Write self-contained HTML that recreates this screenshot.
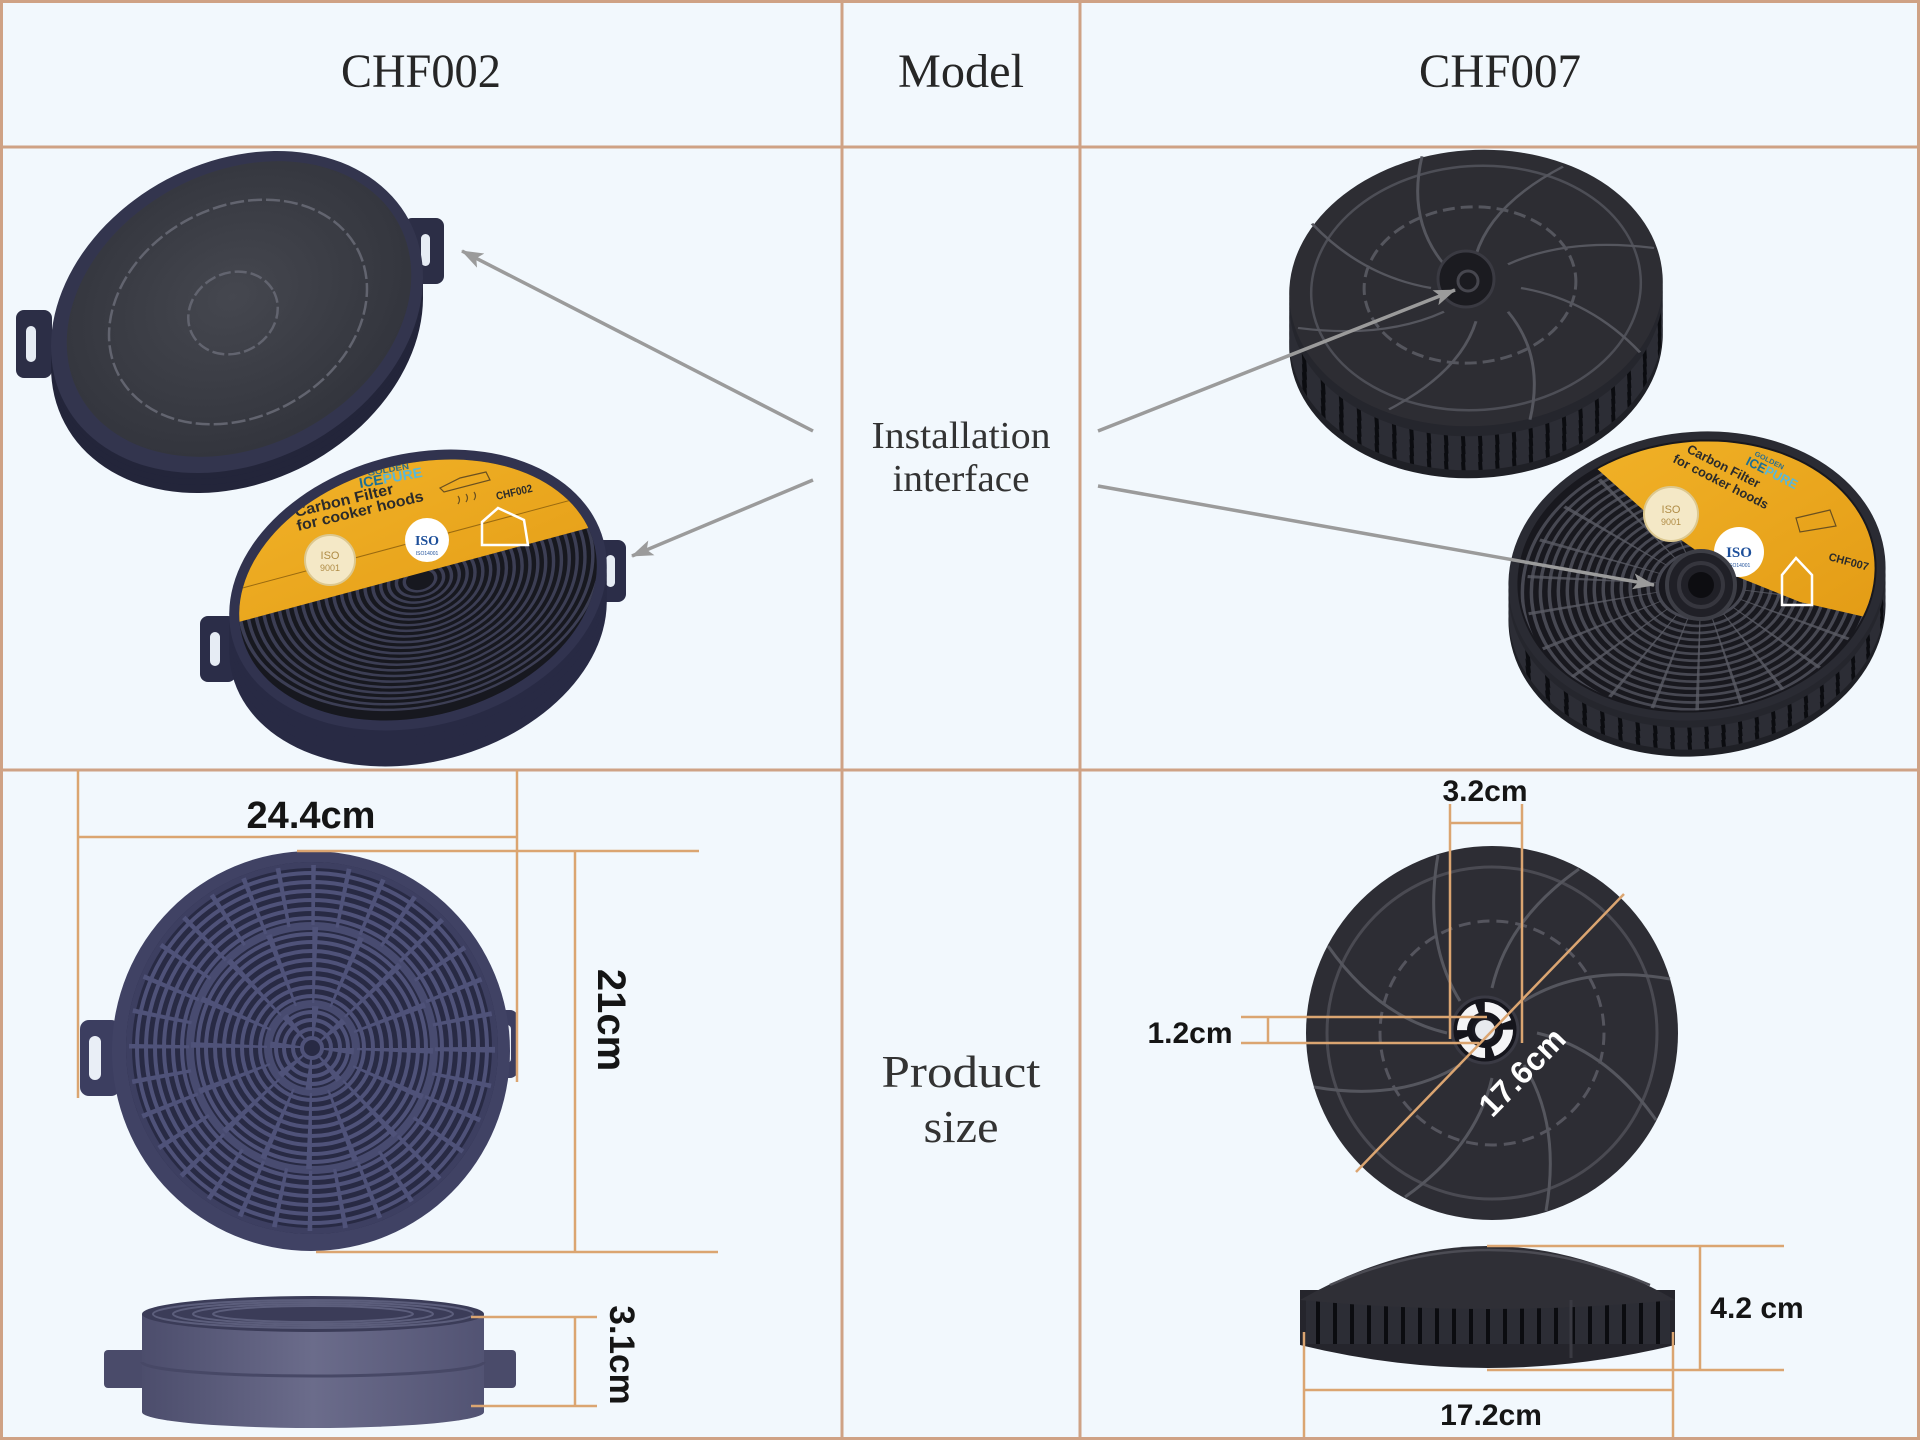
<!DOCTYPE html>
<html><head><meta charset="utf-8"><style>
html,body{margin:0;padding:0;background:#F2F8FD;}
svg{display:block;}
</style></head><body>
<svg width="1920" height="1440" viewBox="0 0 1920 1440" xmlns="http://www.w3.org/2000/svg">
<defs>
 <marker id="ah" markerUnits="userSpaceOnUse" markerWidth="24" markerHeight="18" refX="21" refY="8" orient="auto"><path d="M0,0 L22,8 L0,16 L5,8 z" fill="#9b9b9b"/></marker>
 <radialGradient id="carb" cx="50%" cy="45%" r="60%"><stop offset="0" stop-color="#45474f"/><stop offset="1" stop-color="#31333b"/></radialGradient>
 <linearGradient id="yel" x1="0" y1="0" x2="1" y2="1"><stop offset="0" stop-color="#F3B52A"/><stop offset="1" stop-color="#E29A14"/></linearGradient>
 <linearGradient id="sideL" x1="0" y1="0" x2="1" y2="0"><stop offset="0" stop-color="#4c4d6c"/><stop offset="0.5" stop-color="#6b6c8b"/><stop offset="1" stop-color="#525373"/></linearGradient>
 <pattern id="vent" x="0" y="0" width="17" height="40" patternUnits="userSpaceOnUse"><rect width="17" height="40" fill="#2c2d35"/><rect x="7" width="4" height="40" fill="#0b0c10"/></pattern>
 <clipPath id="faceF2"><ellipse cx="418" cy="590" rx="182" ry="126" transform="rotate(-15 418 590)"/></clipPath>
 <clipPath id="faceF4"><ellipse cx="1697" cy="576" rx="178" ry="134" transform="rotate(-6 1697 576)"/></clipPath>
 <g id="spk" fill="none" stroke="#55565e" stroke-width="3">
  <path d="M1537,1033 Q1606,1049 1656,1120"/>
  <path d="M1524,1065 Q1561,1125 1546,1211"/>
  <path d="M1492,1078 Q1476,1147 1405,1197"/>
  <path d="M1460,1065 Q1400,1102 1314,1087"/>
  <path d="M1447,1033 Q1378,1017 1328,946"/>
  <path d="M1460,1001 Q1423,941 1438,855"/>
  <path d="M1492,988 Q1508,919 1579,869"/>
  <path d="M1524,1001 Q1584,964 1670,979"/>
 </g>
</defs>

<rect width="1920" height="1440" fill="#F2F8FD"/>

<!-- ============ ROW 2 LEFT : CHF002 top filter ============ -->
<rect x="16" y="310" width="36" height="68" rx="8" fill="#2c2e46"/>
<rect x="26" y="326" width="10" height="36" rx="5" fill="#e6ecf4"/>
<rect x="404" y="218" width="40" height="66" rx="8" fill="#2c2e46"/>
<rect x="421" y="234" width="9" height="32" rx="4.5" fill="#e6ecf4"/>
<g fill="#23253a">
 <ellipse cx="237" cy="332" rx="195" ry="150" transform="rotate(-28 237 332)"/>
 <ellipse cx="237" cy="324" rx="195" ry="150" transform="rotate(-28 237 324)"/>
 <ellipse cx="237" cy="318" rx="195" ry="150" transform="rotate(-28 237 318)"/>
</g>
<ellipse cx="237" cy="312" rx="195" ry="150" transform="rotate(-28 237 312)" fill="#33354e"/>
<ellipse cx="239" cy="309" rx="181" ry="137" transform="rotate(-28 239 309)" fill="url(#carb)"/>
<ellipse cx="238" cy="312" rx="135" ry="105" transform="rotate(-28 238 312)" fill="none" stroke="#62646f" stroke-width="2.5" stroke-dasharray="14 4"/>
<ellipse cx="233" cy="313" rx="46" ry="40" transform="rotate(-28 233 313)" fill="none" stroke="#62646f" stroke-width="2.5" stroke-dasharray="12 4"/>

<!-- ============ ROW 2 LEFT : CHF002 bottom filter ============ -->
<rect x="200" y="616" width="36" height="66" rx="8" fill="#2b2d48"/>
<rect x="210" y="632" width="10" height="34" rx="5" fill="#e6ecf4"/>
<rect x="590" y="540" width="36" height="62" rx="8" fill="#2b2d48"/>
<rect x="606" y="555" width="9" height="32" rx="4.5" fill="#e6ecf4"/>
<g fill="#282a44">
 <ellipse cx="418" cy="626" rx="192" ry="136" transform="rotate(-15 418 626)"/>
 <ellipse cx="418" cy="616" rx="192" ry="136" transform="rotate(-15 418 616)"/>
 <ellipse cx="418" cy="606" rx="192" ry="136" transform="rotate(-15 418 606)"/>
 <ellipse cx="418" cy="598" rx="192" ry="136" transform="rotate(-15 418 598)"/>
</g>
<ellipse cx="418" cy="590" rx="192" ry="136" transform="rotate(-15 418 590)" fill="#31334f"/>
<ellipse cx="418" cy="590" rx="182" ry="126" transform="rotate(-15 418 590)" fill="#17181f"/>
<g clip-path="url(#faceF2)">
 <g transform="translate(420 580) rotate(-15) scale(1 0.68)" fill="none" stroke="#3c3e54" stroke-width="3.5">
  <circle r="16"/><circle r="24"/><circle r="32"/><circle r="40"/><circle r="48"/><circle r="56"/><circle r="64"/><circle r="72"/><circle r="80"/><circle r="88"/><circle r="96"/><circle r="104"/><circle r="112"/><circle r="120"/><circle r="128"/><circle r="136"/><circle r="144"/><circle r="152"/><circle r="160"/><circle r="168"/><circle r="176"/><circle r="184"/>
 </g>
 <polygon points="220,440 640,440 640,514 220,627" fill="url(#yel)"/>
 <line x1="235" y1="590" x2="620" y2="487" stroke="#9a6a10" stroke-width="1"/>
 <g font-family="Liberation Sans, sans-serif" font-weight="bold">
  <text transform="translate(368 476) rotate(-10)" font-size="8" fill="#2a6f8f" textLength="42" lengthAdjust="spacingAndGlyphs">GOLDEN</text>
  <text transform="translate(360 488) rotate(-10)" font-size="14" textLength="64" lengthAdjust="spacingAndGlyphs"><tspan fill="#1b6f95">ICE</tspan><tspan fill="#5ab8d8">PURE</tspan></text>
  <text transform="translate(296 517) rotate(-13.5)" font-size="15" fill="#2b2b2b" textLength="101" lengthAdjust="spacingAndGlyphs">Carbon Filter</text>
  <text transform="translate(298 531) rotate(-13.5)" font-size="15" fill="#2b2b2b" textLength="130" lengthAdjust="spacingAndGlyphs">for cooker hoods</text>
  <text transform="translate(497 500) rotate(-13)" font-size="11" fill="#2b2b2b" textLength="37" lengthAdjust="spacingAndGlyphs">CHF002</text>
 </g>
 <circle cx="330" cy="560" r="25" fill="#F4E8C6" stroke="#dcc890" stroke-width="2"/>
 <text x="330" y="559" font-family="Liberation Sans, sans-serif" font-size="11" fill="#b08c46" text-anchor="middle">ISO</text>
 <text x="330" y="571" font-family="Liberation Sans, sans-serif" font-size="9" fill="#b08c46" text-anchor="middle">9001</text>
 <circle cx="427" cy="540" r="22" fill="#ffffff"/>
 <text x="427" y="545" font-family="Liberation Serif, serif" font-weight="bold" font-size="14" fill="#1d4f9a" text-anchor="middle">ISO</text>
 <text x="427" y="555" font-family="Liberation Sans, sans-serif" font-size="5" fill="#1d4f9a" text-anchor="middle">ISO14001</text>
 <path d="M482,545 L482,522 L498,508 L524,520 L528,545 Z" fill="none" stroke="#ffffff" stroke-width="2.5"/>
 <path d="M440,488 L460,478 L486,472 L490,480 L444,492 Z" fill="none" stroke="#6a5020" stroke-width="1.2"/>
 <path d="M458,496 q3,4 0,8 M466,494 q3,4 0,8 M474,492 q3,4 0,8" fill="none" stroke="#6a5020" stroke-width="1.2"/>
</g>

<!-- ============ ROW 2 RIGHT : CHF007 top filter ============ -->
<g>
 <ellipse cx="1476" cy="340" rx="187" ry="138" transform="rotate(-4 1476 340)" fill="#1f2026"/>
 <ellipse cx="1476" cy="332" rx="187" ry="138" transform="rotate(-4 1476 332)" fill="url(#vent)"/>
 <ellipse cx="1476" cy="324" rx="187" ry="138" transform="rotate(-4 1476 324)" fill="url(#vent)"/>
 <ellipse cx="1476" cy="316" rx="187" ry="138" transform="rotate(-4 1476 316)" fill="url(#vent)"/>
 <ellipse cx="1476" cy="308" rx="187" ry="138" transform="rotate(-4 1476 308)" fill="url(#vent)"/>
 <ellipse cx="1476" cy="298" rx="187" ry="138" transform="rotate(-4 1476 298)" fill="#25262d"/>
 <ellipse cx="1476" cy="288" rx="187" ry="138" transform="rotate(-4 1476 288)" fill="#2d2d33"/>
 <ellipse cx="1476" cy="288" rx="165" ry="122" transform="rotate(-4 1476 288)" fill="none" stroke="#4d4e56" stroke-width="2.5"/>
 <ellipse cx="1470" cy="285" rx="106" ry="78" transform="rotate(-4 1470 285)" fill="none" stroke="#55565e" stroke-width="3" stroke-dasharray="12 6"/>
 <use href="#spk" transform="translate(1476 288) scale(1 0.74) translate(-1492 -1033)"/>
 <circle cx="1466" cy="279" r="28" fill="#1b1b20" stroke="#3a3a42" stroke-width="3"/>
 <circle cx="1468" cy="281" r="10" fill="none" stroke="#46464e" stroke-width="3"/>
</g>

<!-- ============ ROW 2 RIGHT : CHF007 bottom filter ============ -->
<g>
 <ellipse cx="1697" cy="612" rx="189" ry="144" transform="rotate(-6 1697 612)" fill="#1f2026"/>
 <ellipse cx="1697" cy="605" rx="189" ry="144" transform="rotate(-6 1697 605)" fill="url(#vent)"/>
 <ellipse cx="1697" cy="598" rx="189" ry="144" transform="rotate(-6 1697 598)" fill="url(#vent)"/>
 <ellipse cx="1697" cy="591" rx="189" ry="144" transform="rotate(-6 1697 591)" fill="url(#vent)"/>
 <ellipse cx="1697" cy="583" rx="189" ry="144" transform="rotate(-6 1697 583)" fill="#25262d"/>
 <ellipse cx="1697" cy="576" rx="189" ry="144" transform="rotate(-6 1697 576)" fill="#2a2b33"/>
 <ellipse cx="1697" cy="576" rx="180" ry="136" transform="rotate(-6 1697 576)" fill="#18181e"/>
 <g clip-path="url(#faceF4)">
  <g transform="translate(1701 585) rotate(-6) scale(1 0.77)" fill="none" stroke="#474852" stroke-width="3.5">
   <circle r="44"/><circle r="53"/><circle r="62"/><circle r="71"/><circle r="80"/><circle r="89"/><circle r="98"/><circle r="107"/><circle r="116"/><circle r="125"/><circle r="134"/><circle r="143"/><circle r="152"/><circle r="161"/><circle r="170"/><circle r="179"/>
   <circle r="110" stroke-width="130" stroke="#5a5b64" stroke-dasharray="2.5 28" opacity="0.8"/>
  </g>
  <polygon points="1560,400 1920,400 1920,625 1878,620 1800,602 1728,573 1660,525 1594,466 1560,440" fill="url(#yel)"/>
  <g transform="translate(1686 452) rotate(27)" font-family="Liberation Sans, sans-serif" font-weight="bold">
   <text x="0" y="0" font-size="13" fill="#2b2b2b" textLength="80" lengthAdjust="spacingAndGlyphs">Carbon Filter</text>
   <text x="-8" y="15" font-size="13" fill="#2b2b2b" textLength="105" lengthAdjust="spacingAndGlyphs">for cooker hoods</text>
   <text x="62" y="-28" font-size="7" fill="#2a6f8f" textLength="32" lengthAdjust="spacingAndGlyphs">GOLDEN</text>
   <text x="58" y="-16" font-size="13" textLength="56" lengthAdjust="spacingAndGlyphs"><tspan fill="#1b6f95">ICE</tspan><tspan fill="#5ab8d8">PURE</tspan></text>
  </g>
  <text x="1828" y="560" transform="rotate(15 1828 560)" font-family="Liberation Sans, sans-serif" font-weight="bold" font-size="11" fill="#2b2b2b">CHF007</text>
  <circle cx="1671" cy="514" r="27" fill="#F4E8C6" stroke="#dcc890" stroke-width="2"/>
  <text x="1671" y="513" font-family="Liberation Sans, sans-serif" font-size="11" fill="#b08c46" text-anchor="middle">ISO</text>
  <text x="1671" y="525" font-family="Liberation Sans, sans-serif" font-size="9" fill="#b08c46" text-anchor="middle">9001</text>
  <circle cx="1739" cy="552" r="25" fill="#ffffff"/>
  <text x="1739" y="557" font-family="Liberation Serif, serif" font-weight="bold" font-size="15" fill="#1d4f9a" text-anchor="middle">ISO</text>
  <text x="1739" y="567" font-family="Liberation Sans, sans-serif" font-size="5" fill="#1d4f9a" text-anchor="middle">ISO14001</text>
  <path d="M1782,605 L1782,575 L1796,558 L1812,575 L1812,605 Z" fill="none" stroke="#ffffff" stroke-width="2.5"/>
  <path d="M1796,518 L1830,510 L1836,526 L1800,532 Z" fill="none" stroke="#6a5020" stroke-width="1.2"/>
 </g>
 <circle cx="1701" cy="585" r="34" fill="#202027" stroke="#3d3e46" stroke-width="4"/>
 <circle cx="1701" cy="585" r="22" fill="none" stroke="#36363e" stroke-width="4"/>
 <circle cx="1701" cy="585" r="13" fill="#0d0d11"/>
</g>

<!-- ============ ROW 3 LEFT : CHF002 front ============ -->
<rect x="80" y="1020" width="40" height="76" rx="9" fill="#3c3e60"/>
<rect x="89" y="1036" width="12" height="44" rx="6" fill="#e9eef6"/>
<rect x="490" y="1010" width="28" height="68" rx="8" fill="#3c3e60"/>
<rect x="503" y="1025" width="8" height="38" rx="4" fill="#e9eef6"/>
<ellipse cx="311" cy="1051" rx="199" ry="200" fill="#404264"/>
<circle cx="312" cy="1048" r="186" fill="#282a44"/>
<g transform="translate(312 1048)" fill="none" stroke="#4f5279">
 <g stroke-width="4">
  <circle r="10"/><circle r="19"/><circle r="28"/><circle r="36"/>
  <circle r="52"/><circle r="61"/><circle r="70"/><circle r="79"/><circle r="88"/><circle r="97"/><circle r="106"/><circle r="114"/>
  <circle r="130"/><circle r="139"/><circle r="148"/><circle r="157"/><circle r="166"/><circle r="175"/>
 </g>
 <circle r="44" stroke-width="8" stroke="#484b70"/>
 <circle r="122" stroke-width="8" stroke="#484b70"/>
 <circle r="183" stroke-width="6" stroke="#3d3f61"/>
 <circle r="25" stroke-width="34" stroke-dasharray="4 15.6"/>
 <circle r="83" stroke-width="76" stroke-dasharray="4 28.6"/>
 <circle r="153" stroke-width="60" stroke-dasharray="4 26"/>
</g>

<!-- ============ ROW 3 LEFT : CHF002 side ============ -->
<rect x="104" y="1350" width="42" height="38" rx="4" fill="#4a4b6a"/>
<rect x="480" y="1350" width="36" height="38" rx="4" fill="#4a4b6a"/>
<path d="M142,1314 L142,1412 A171,16 0 0 0 484,1412 L484,1314 Z" fill="url(#sideL)"/>
<path d="M142,1362 A171,14 0 0 0 484,1362" stroke="#474866" fill="none" stroke-width="3"/>
<ellipse cx="313" cy="1314" rx="171" ry="18" fill="#3b3c58"/>
<g fill="none" stroke="#5c5e7c" stroke-width="2">
 <ellipse cx="313" cy="1314" rx="160" ry="14"/>
 <ellipse cx="313" cy="1314" rx="140" ry="12"/>
 <ellipse cx="313" cy="1314" rx="120" ry="10"/>
 <ellipse cx="313" cy="1314" rx="100" ry="8"/>
</g>

<!-- ============ ROW 3 RIGHT : CHF007 front ============ -->
<ellipse cx="1492" cy="1033" rx="186" ry="187" fill="#2d2d34"/>
<ellipse cx="1492" cy="1033" rx="165" ry="166" fill="none" stroke="#4a4a52" stroke-width="3"/>
<circle cx="1492" cy="1033" r="112" fill="none" stroke="#55555e" stroke-width="3" stroke-dasharray="12 7"/>
<use href="#spk"/>
<circle cx="1485" cy="1030" r="33" fill="#15151c" stroke="#3a3a44" stroke-width="3"/>
<circle cx="1485" cy="1030" r="23" fill="none" stroke="#f4f4f6" stroke-width="10" stroke-dasharray="28 8"/>
<circle cx="1485" cy="1030" r="13" fill="#1a1a22"/>
<circle cx="1485" cy="1030" r="10" fill="#e8eaee"/>

<!-- ============ ROW 3 RIGHT : CHF007 side ============ -->
<path d="M1300,1290 L1300,1345 Q1488,1391 1675,1345 L1675,1290 Z" fill="#25252c"/>
<rect x="1306" y="1300" width="364" height="44" fill="url(#vent)"/>
<path d="M1300,1300 Q1488,1192 1675,1300 Q1488,1318 1300,1300 Z" fill="#2f2f36"/>
<path d="M1330,1285 Q1488,1215 1650,1285" fill="none" stroke="#4c4c54" stroke-width="2.5"/>
<line x1="1571" y1="1300" x2="1571" y2="1358" stroke="#3a3a42" stroke-width="3"/>

<!-- ============ GRID ============ -->
<g stroke="#CFA285" stroke-width="3" fill="none">
 <rect x="1.5" y="1.5" width="1917" height="1437"/>
 <line x1="0" y1="147" x2="1920" y2="147"/>
 <line x1="0" y1="770" x2="1920" y2="770"/>
 <line x1="842" y1="0" x2="842" y2="1440"/>
 <line x1="1080" y1="0" x2="1080" y2="1440"/>
</g>

<!-- headers -->
<g font-family="Liberation Serif, serif" fill="#262626" text-anchor="middle">
 <text x="421" y="87" font-size="48" textLength="160" lengthAdjust="spacingAndGlyphs">CHF002</text>
 <text x="961" y="87" font-size="48" textLength="126" lengthAdjust="spacingAndGlyphs">Model</text>
 <text x="1500" y="87" font-size="48" textLength="162" lengthAdjust="spacingAndGlyphs">CHF007</text>
 <text x="961" y="448" font-size="38" fill="#333" textLength="179" lengthAdjust="spacingAndGlyphs">Installation</text>
 <text x="961" y="491" font-size="38" fill="#333" textLength="137" lengthAdjust="spacingAndGlyphs">interface</text>
 <text x="961" y="1087" font-size="46" fill="#333" textLength="159" lengthAdjust="spacingAndGlyphs">Product</text>
 <text x="961" y="1142" font-size="46" fill="#333" textLength="75" lengthAdjust="spacingAndGlyphs">size</text>
</g>

<!-- arrows -->
<g stroke="#9b9b9b" stroke-width="3.5" marker-end="url(#ah)">
 <line x1="813" y1="431" x2="462" y2="251"/>
 <line x1="813" y1="480" x2="632" y2="556"/>
 <line x1="1098" y1="431" x2="1455" y2="290"/>
 <line x1="1098" y1="486" x2="1654" y2="585"/>
</g>

<!-- dimension lines -->
<g stroke="#DBA571" stroke-width="2.5" fill="none">
 <line x1="78" y1="770" x2="78" y2="1098"/>
 <line x1="517" y1="770" x2="517" y2="1082"/>
 <line x1="78" y1="837" x2="517" y2="837"/>
 <line x1="297" y1="851" x2="699" y2="851"/>
 <line x1="316" y1="1252" x2="718" y2="1252"/>
 <line x1="575" y1="851" x2="575" y2="1252"/>
 <line x1="471" y1="1317" x2="597" y2="1317"/>
 <line x1="471" y1="1406" x2="597" y2="1406"/>
 <line x1="575" y1="1317" x2="575" y2="1406"/>

 <line x1="1450" y1="804" x2="1450" y2="1039"/>
 <line x1="1522" y1="804" x2="1522" y2="1043"/>
 <line x1="1450" y1="823" x2="1522" y2="823"/>
 <line x1="1241" y1="1017" x2="1487" y2="1017"/>
 <line x1="1241" y1="1043" x2="1479" y2="1043"/>
 <line x1="1268" y1="1017" x2="1268" y2="1043"/>
 <line x1="1624" y1="894" x2="1356" y2="1172"/>

 <line x1="1487" y1="1246" x2="1784" y2="1246"/>
 <line x1="1487" y1="1370" x2="1784" y2="1370"/>
 <line x1="1700" y1="1246" x2="1700" y2="1370"/>
 <line x1="1304" y1="1332" x2="1304" y2="1437"/>
 <line x1="1673" y1="1332" x2="1673" y2="1437"/>
 <line x1="1304" y1="1390" x2="1673" y2="1390"/>
</g>

<!-- dimension labels -->
<g font-family="Liberation Sans, sans-serif" font-weight="bold" fill="#151515" text-anchor="middle">
 <text x="311" y="828" font-size="38">24.4cm</text>
 <text transform="translate(612 1020) rotate(90)" x="0" y="14" font-size="40">21cm</text>
 <text transform="translate(622 1355) rotate(90)" x="0" y="12" font-size="35">3.1cm</text>
 <text x="1485" y="801" font-size="30">3.2cm</text>
 <text x="1190" y="1043" font-size="30">1.2cm</text>
 <text x="1757" y="1318" font-size="30">4.2 cm</text>
 <text x="1491" y="1425" font-size="30">17.2cm</text>
 <text transform="translate(1522 1072) rotate(-46)" x="0" y="11" font-size="32" fill="#ffffff">17.6cm</text>
</g>
</svg>
</body></html>
